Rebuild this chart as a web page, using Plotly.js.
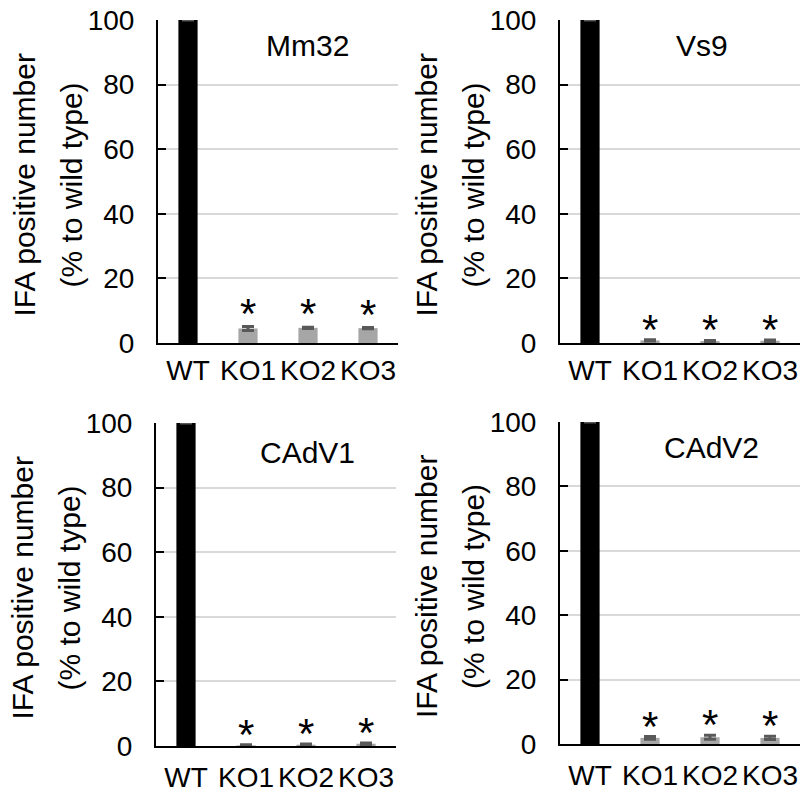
<!DOCTYPE html>
<html>
<head>
<meta charset="utf-8">
<script src="https://cdn.plot.ly/plotly-3.0.1.min.js"></script>
<style>html,body{margin:0;padding:0;background:#fff;}#chart{width:803px;height:798px;}</style>
</head>
<body>
<div id="chart"></div>
<script>
// ---- data ----
const categories = ['WT', 'KO1', 'KO2', 'KO3'];
const panelNames = ['Mm32', 'Vs9', 'CAdV1', 'CAdV2'];
const mm32Values = [100, 4.5, 4.7, 4.6];
const mm32Errors = [0, 0.6, 0.2, 0.2];
const vs9Values = [100, 0.8, 0.6, 0.7];
const vs9Errors = [0, 0.2, 0.2, 0.2];
const cadv1Values = [100, 0.2, 0.4, 0.7];
const cadv1Errors = [0, 0.2, 0.2, 0.2];
const cadv2Values = [100, 1.9, 2.1, 1.9];
const cadv2Errors = [0, 0.4, 0.6, 0.5];
const significant = [false, true, true, true];
const yTickVals = [0, 20, 40, 60, 80, 100];
const yTitleLine1 = 'IFA positive number';
const yTitleLine2 = '(% to wild type)';

const panelValues = [mm32Values, vs9Values, cadv1Values, cadv2Values];
const panelErrors = [mm32Errors, vs9Errors, cadv1Errors, cadv2Errors];

// ---- layout geometry (pixels) ----
const W = 803, H = 798;
const boxes = [
  {l: 158, r: 398, t: 20, b: 343, standoff: 1, star: -12},
  {l: 560, r: 800, t: 20, b: 343, standoff: 1, star: -15},
  {l: 156, r: 396, t: 423, b: 746, standoff: 5, star: -15},
  {l: 560, r: 800, t: 422, b: 744, standoff: 5, star: -15}
];
const labelPos = [
  {x: 0.623, y: 0.92}, {x: 0.59, y: 0.92}, {x: 0.633, y: 0.91}, {x: 0.63, y: 0.92}
];
const FONT = 'Liberation Sans, Arial, sans-serif';
const barColors = ['#000000', '#a6a6a6', '#a6a6a6', '#a6a6a6'];

const traces = [];
const layout = {
  width: W, height: H,
  margin: {l: 0, r: 0, t: 0, b: 0},
  paper_bgcolor: '#ffffff', plot_bgcolor: '#ffffff',
  showlegend: false,
  bargap: 0.68,
  font: {family: FONT, size: 28, color: '#000'},
  annotations: []
};

boxes.forEach((b, i) => {
  const n = i + 1;
  const xa = 'x' + (n === 1 ? '' : n), ya = 'y' + (n === 1 ? '' : n);
  const xk = 'xaxis' + (n === 1 ? '' : n), yk = 'yaxis' + (n === 1 ? '' : n);
  traces.push({
    type: 'bar', x: categories, y: panelValues[i], xaxis: xa, yaxis: ya,
    marker: {color: barColors, line: {width: 0}},
    error_y: {type: 'data', array: panelErrors[i], visible: true, color: '#595959', thickness: 3, width: 6},
    cliponaxis: false, hoverinfo: 'skip'
  });
  layout[xk] = {
    domain: [b.l / W, b.r / W], anchor: ya, type: 'category',
    range: [-0.5, 3.5], showline: true, linecolor: '#000', linewidth: 2,
    ticks: '', showgrid: false, zeroline: false,
    tickfont: {family: FONT, size: 28, color: '#000'}, ticklabelstandoff: b.standoff
  };
  layout[yk] = {
    domain: [1 - b.b / H, 1 - b.t / H], anchor: xa,
    range: [0, 100], tickvals: yTickVals, showline: true, linecolor: '#000', linewidth: 2,
    ticks: 'inside', ticklen: 8, tickwidth: 2, tickcolor: '#000',
    showgrid: true, gridcolor: '#d9d9d9', gridwidth: 2, zeroline: false,
    tickfont: {family: FONT, size: 28, color: '#000'}, ticklabelstandoff: 16
  };
  layout.annotations.push({
    xref: xa + ' domain', yref: ya + ' domain', x: labelPos[i].x, y: labelPos[i].y,
    text: panelNames[i], showarrow: false, xanchor: 'center', yanchor: 'middle',
    font: {family: FONT, size: 30, color: '#000'}
  });
  categories.forEach((c, j) => {
    if (!significant[j]) return;
    layout.annotations.push({
      xref: xa, yref: ya, x: c, y: panelValues[i][j] + panelErrors[i][j],
      text: '*', showarrow: false, xanchor: 'center', yanchor: 'bottom', yshift: b.star,
      font: {family: FONT, size: 42, color: '#000'}
    });
  });
  const cy = 1 - ((b.t + b.b) / 2 + 4) / H;
  layout.annotations.push({
    xref: 'paper', yref: 'paper', x: (b.l - 134) / W, y: cy, textangle: -90,
    text: yTitleLine1, showarrow: false, xanchor: 'center', yanchor: 'middle',
    font: {family: FONT, size: 30, color: '#000'}
  });
  layout.annotations.push({
    xref: 'paper', yref: 'paper', x: (b.l - 87) / W, y: cy, textangle: -90,
    text: yTitleLine2, showarrow: false, xanchor: 'center', yanchor: 'middle',
    font: {family: FONT, size: 30, color: '#000'}
  });
});

Plotly.newPlot('chart', traces, layout, {staticPlot: true, displayModeBar: false});
</script>
</body>
</html>
